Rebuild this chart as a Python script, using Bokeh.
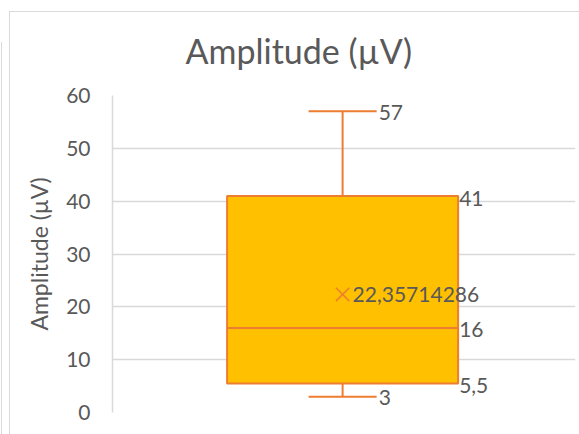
from bokeh.plotting import figure
from bokeh.models import ColumnDataSource, Range1d, FixedTicker
from bokeh.core.properties import value
from bokeh.embed import file_html
from bokeh.resources import INLINE

# ---- data ----
series_name = "Amplitude (µV)"
whisker_min = 3
q1 = 5.5
median = 16
q3 = 41
whisker_max = 57
mean = 22.35714286
y_ticks = [0, 10, 20, 30, 40, 50, 60]

def fmt(v):
    return str(v).replace(".", ",")

FONT = "Lato"
TXT = "#595959"
ORANGE = "#ED7D31"
GOLD = "#FFC000"
GRID = "#D9D9D9"

p = figure(width=579, height=434, output_backend="svg", toolbar_location=None,
           x_range=Range1d(0, 1), y_range=Range1d(0, 60),
           min_border_left=112, min_border_right=4, min_border_top=95,
           min_border_bottom=22)
p.outline_line_color = None
p.background_fill_color = None
p.border_fill_color = None
g = "linear-gradient(#D9D9D9,#D9D9D9)"
p.styles = {
    "background": (f"{g} 9px 11px / 100% 1px no-repeat, "
                   f"{g} 9px 11px / 1px 100% no-repeat, "
                   f"{g} 1px 42px / 1px 100% no-repeat, white"),
}

p.title.text = series_name
p.title.align = "left"
p.title.offset = 73
p.title.text_font = FONT
p.title.text_font_size = "34px"
p.title.text_font_style = "normal"
p.title.text_color = TXT
p.title.standoff = 49

p.xaxis.visible = False
p.xgrid.visible = False
p.yaxis.ticker = FixedTicker(ticks=y_ticks)
p.yaxis.axis_line_color = GRID
p.yaxis.axis_line_width = 1.5
p.yaxis.major_tick_line_color = None
p.yaxis.minor_tick_line_color = None
p.yaxis.major_label_text_font = FONT
p.yaxis.major_label_text_font_size = "21px"
p.yaxis.major_label_text_color = TXT
p.yaxis.major_label_standoff = 16
p.yaxis.axis_label = series_name
p.yaxis.axis_label_text_font = FONT
p.yaxis.axis_label_text_font_size = "23px"
p.yaxis.axis_label_text_font_style = "normal"
p.yaxis.axis_label_text_color = TXT
p.yaxis.axis_label_standoff = 10
p.ygrid.grid_line_color = GRID
p.ygrid.grid_line_width = 1.5

center = 0.497
box_w = 0.499
cap_w = 0.147

# whiskers
p.segment(x0=[center, center], y0=[q3, q1], x1=[center, center], y1=[whisker_max, whisker_min],
          line_color=ORANGE, line_width=2)
p.segment(x0=[center - cap_w / 2] * 2, y0=[whisker_max, whisker_min],
          x1=[center + cap_w / 2] * 2, y1=[whisker_max, whisker_min],
          line_color=ORANGE, line_width=2)
# box
p.quad(left=[center - box_w / 2], right=[center + box_w / 2], bottom=[q1], top=[q3],
       fill_color=GOLD, line_color=ORANGE, line_width=2)
# median
p.segment(x0=[center - box_w / 2], y0=[median], x1=[center + box_w / 2], y1=[median],
          line_color=ORANGE, line_width=2)
# mean marker
p.scatter(x=[center], y=[mean], marker="x", size=19, line_color=ORANGE, line_width=1.5)

# labels
lab_src = ColumnDataSource(dict(
    x=[center + cap_w / 2, center + cap_w / 2, center + box_w / 2, center + box_w / 2, center + box_w / 2, center],
    y=[whisker_max, whisker_min, q3, median, q1, mean],
    t=[fmt(whisker_max), fmt(whisker_min), fmt(q3), fmt(median), fmt(q1), fmt(mean)],
    dx=[2, 2, 1, 1, 1, 10],
    dy=[1, 1, 3, 2, 2, 0],
))
p.text(x="x", y="y", text="t", x_offset="dx", y_offset="dy", source=lab_src,
       text_font=value(FONT), text_font_size="21px", text_color=TXT,
       text_align="left", text_baseline="middle")

open("out.html", "w").write(file_html(p, INLINE))
